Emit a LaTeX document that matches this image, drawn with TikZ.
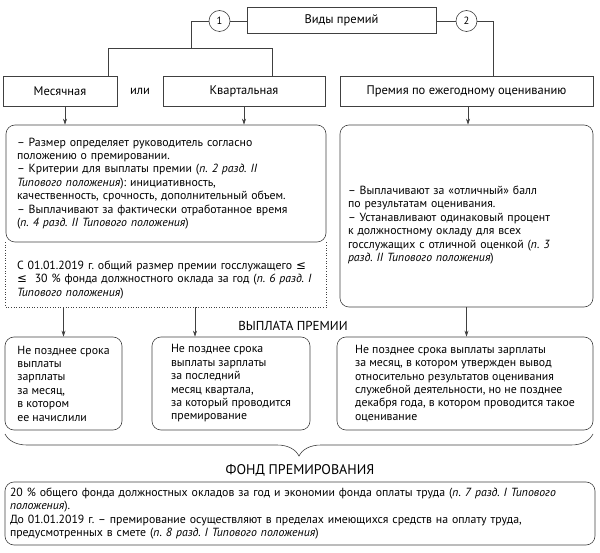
\documentclass[tikz,border=0pt]{standalone}
\usepackage{fontspec}
\setmainfont{PT Sans}
\newfontfamily\symfont{DejaVu Sans}
\usetikzlibrary{arrows.meta,decorations.pathreplacing}
\frenchspacing

\begin{document}
\begin{tikzpicture}[x=1pt,y=-1pt,
    box/.style={draw=black!75,line width=0.6pt,minimum height=30pt,inner sep=0pt,font=\fontsize{12.5}{14}\selectfont},
    num/.style={draw=black!75,line width=0.6pt,circle,minimum size=21pt,inner sep=0pt,font=\fontsize{10.5}{12}\selectfont},
    rbox/.style={draw=black!75,line width=0.6pt,rounded corners=9pt,align=left,font=\fontsize{11.8}{13.4}\selectfont},
    note/.style={align=left,font=\fontsize{11.8}{13.4}\selectfont},
    link/.style={draw=black!75,line width=0.6pt},
    arr/.style={link,-{Stealth[length=6pt,width=4pt]}},
    ttl/.style={font=\fontsize{13}{15}\selectfont}]
    \useasboundingbox (0,0) rectangle (600,553);
    \node[box,minimum width=189pt,minimum height=26pt] (types) at (341.5,20) {Виды премий};
    \node[num] (n1) at (219.5,21) {1};
    \node[num] (n2) at (466.5,21) {2};
    \node[box,minimum width=114pt] (month) at (60,91) {Месячная};
    \node[font=\fontsize{12.5}{14}\selectfont] (ili) at (140,91) {или};
    \node[box,minimum width=162pt] (quarter) at (244,91) {Квартальная};
    \node[box,minimum width=253pt] (annual) at (466.5,91) {Премия по ежегодному оцениванию};
    \coordinate (fork) at (191,48);
    \coordinate (forkl) at (108,48);
    \coordinate (forkr) at (272,48);
    \coordinate (annualin) at (493,76);
    \draw[link] (n1.east) -- (n1.east -| types.west);
    \draw[link] (n2.west) -- (n2.west -| types.east);
    \draw[link] (n1.west) -| (fork);
    \draw[link] (forkl |- month.north) |- (forkr) -- (forkr |- quarter.north);
    \draw[link] (n2.east) -| (annualin);
    \node[rbox,text width=298pt,inner xsep=11pt,minimum height=117pt] (rules) at (166,183.5) {%
      – Размер определяет руководитель согласно\\
      положению о премировании.\\
      – Критерии для выплаты премии (\textit{п. 2 разд. II}\\
      \textit{Типового положения}): инициативность,\\
      качественность, срочность, дополнительный объем.\\
      – Выплачивают за фактически отработанное время\\
      (\textit{п. 4 разд. II Типового положения})};
    \node[note,text width=298pt,inner xsep=11pt,minimum height=54pt] (limit) at (166,280) {%
      С 01.01.2019 г. общий размер премии госслужащего {\symfont ≤}\\
      {\symfont ≤}\ \ 30 \% фонда должностного оклада за год (\textit{п. 6 разд. I}\\
      \textit{Типового положения})};
    \draw[link,dotted] (rules.south west) |- (limit.south -| rules.east) -- (rules.south east);
    \node[rbox,minimum width=253pt,minimum height=182pt] (annualinfo) at (466.5,216) {};
    \node[note,text width=237pt,inner xsep=0pt] (annualtext) at (466.5,225) {%
      – Выплачивают за «отличный» балл\\
      по результатам оценивания.\\
      – Устанавливают одинаковый процент\\
      к должностному окладу для всех\\
      госслужащих с отличной оценкой (\textit{п. 3}\\
      \textit{разд. II Типового положения})};
    \draw[arr] ([xshift=5pt]month.south) -- ([xshift=5pt]month.south |- rules.north);
    \draw[arr] (quarter.south) -- (quarter.south |- rules.north);
    \draw[arr] ([xshift=1.5pt]annual.south) -- ([xshift=1.5pt]annual.south |- annualinfo.north);
    \node[ttl] (paytitle) at (293,326) {ВЫПЛАТА ПРЕМИИ};
    \node[rbox,minimum width=117pt,minimum height=93pt] (paymonth) at (63.5,383.5) {%
      Не позднее срока\\
      выплаты\\
      зарплаты\\
      за месяц,\\
      в котором\\
      ее начислили};
    \node[rbox,minimum width=158pt,minimum height=93pt] (payquarter) at (231,383.5) {%
      Не позднее срока\\
      выплаты зарплаты\\
      за последний\\
      месяц квартала,\\
      за который проводится\\
      премирование};
    \node[rbox,minimum width=256pt,minimum height=93pt] (payannual) at (465,383.5) {%
      Не позднее срока выплаты зарплаты\\
      за месяц, в котором утвержден вывод\\
      относительно результатов оценивания\\
      служебной деятельности, но не позднее\\
      декабря года, в котором проводится такое\\
      оценивание};
    \draw[arr] (paymonth.north |- limit.south) -- (paymonth.north);
    \draw[arr] ([xshift=-36pt]payquarter.north |- limit.south) -- ([xshift=-36pt]payquarter.north);
    \draw[arr] (annualinfo.south) -- (annualinfo.south |- payannual.north);
    \coordinate (bracel) at (5,434);
    \coordinate (bracer) at (593,434);
    \draw[link,decorate,decoration={brace,mirror,amplitude=22pt}] (bracel) -- (bracer);
    \node[ttl,font=\fontsize{14}{16}\selectfont] (fund) at (300,470) {ФОНД ПРЕМИРОВАНИЯ};
    \node[rbox,text width=580pt,inner xsep=5pt,minimum height=63pt] (fundinfo) at (300,513.5) {%
      20 \% общего фонда должностных окладов за год и экономии фонда оплаты труда (\textit{п. 7 разд. I Типового}\\
      \textit{положения}).\\
      До 01.01.2019 г. – премирование осуществляют в пределах имеющихся средств на оплату труда,\\
      предусмотренных в смете (\textit{п. 8 разд. I Типового положения})};
\end{tikzpicture}
\end{document}
